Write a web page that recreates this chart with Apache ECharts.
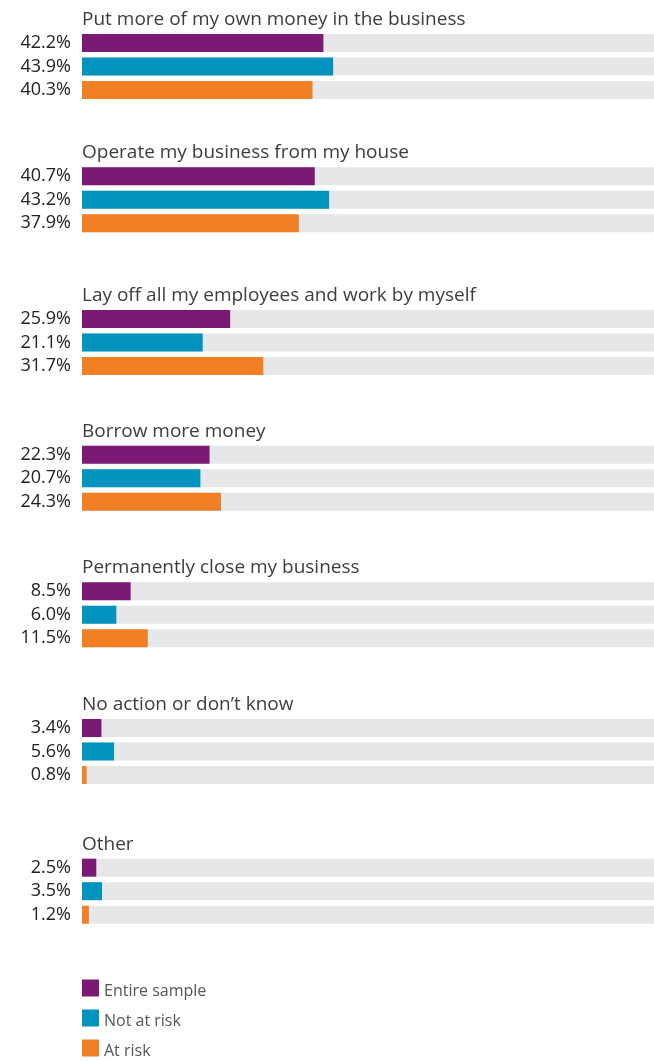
<!DOCTYPE html>
<html>
<head>
<meta charset="utf-8">
<script src="https://cdn.jsdelivr.net/npm/echarts@6/dist/echarts.min.js"></script>
<style>
  html, body { margin: 0; padding: 0; background: #ffffff; }
  #chart { width: 654px; height: 1061px; }
</style>
</head>
<body>
<div id="chart"></div>
<script>
// Survey responses: actions a business would take, by risk group (percent)
const actions = [
  'Put more of my own money in the business',
  'Operate my business from my house',
  'Lay off all my employees and work by myself',
  'Borrow more money',
  'Permanently close my business',
  'No action or don\u2019t know',
  'Other'
];
const seriesNames = ['Entire sample', 'Not at risk', 'At risk'];
const entireSample = [42.2, 40.7, 25.9, 22.3, 8.5, 3.4, 2.5];
const notAtRisk    = [43.9, 43.2, 21.1, 20.7, 6.0, 5.6, 3.5];
const atRisk       = [40.3, 37.9, 31.7, 24.3, 11.5, 0.8, 1.2];

// Layout: top pixel of each panel's first bar
const panelTops = [34, 167.3, 310, 445.7, 582.3, 719, 858.7];
const colors = ['#7a1a74', '#0192bd', '#f07f26'];
const FONT = '"Open Sans", sans-serif';
const BAR_H = 18;
const PITCH = 23.5;

const valueSets = [entireSample, notAtRisk, atRisk];
const grids = [], xAxes = [], yAxes = [], series = [], titles = [];

actions.forEach((name, g) => {
  const gridTop = panelTops[g] - (PITCH - BAR_H) / 2;
  grids.push({ left: 82, right: 0, top: gridTop, height: PITCH * 3 });
  xAxes.push({
    gridIndex: g, type: 'value', min: 0, max: 100, show: false
  });
  yAxes.push({
    gridIndex: g, type: 'category', data: [name], inverse: true, show: false
  });
  titles.push({
    text: name,
    left: 77,
    top: panelTops[g] - 29,
    textStyle: { fontFamily: FONT, fontSize: 19, fontWeight: 'normal', color: '#3d3d3d' }
  });
  valueSets.forEach((vals, s) => {
    series.push({
      name: seriesNames[s],
      type: 'bar',
      xAxisIndex: g,
      yAxisIndex: g,
      data: [vals[g]],
      barWidth: BAR_H,
      barGap: ((PITCH - BAR_H) / BAR_H * 100) + '%',
      itemStyle: { color: colors[s] },
      showBackground: true,
      backgroundStyle: { color: '#e6e7e8' },
      label: {
        show: true,
        position: 'left',
        distance: 11,
        fontFamily: FONT,
        fontSize: 18,
        color: '#222222',
        formatter: p => p.value.toFixed(1) + '%'
      },
      silent: true,
      animation: false
    });
  });
});

const chart = echarts.init(document.getElementById('chart'), null, { renderer: 'canvas' });
chart.setOption({
  animation: false,
  title: titles,
  grid: grids,
  xAxis: xAxes,
  yAxis: yAxes,
  legend: {
    data: seriesNames,
    orient: 'vertical',
    left: 82,
    top: 979.5,
    height: 90,
    padding: 0,
    itemWidth: 17,
    itemHeight: 17,
    itemGap: 10,
    icon: 'rect',
    selectedMode: false,
    formatter: n => '{t|' + n + '}',
    textStyle: {
      fontFamily: FONT, fontSize: 16, color: '#555555',
      rich: { t: { fontFamily: FONT, fontSize: 16, color: '#555555', padding: [7, 0, 0, 0] } }
    }
  },
  series: series
});
</script>
</body>
</html>
